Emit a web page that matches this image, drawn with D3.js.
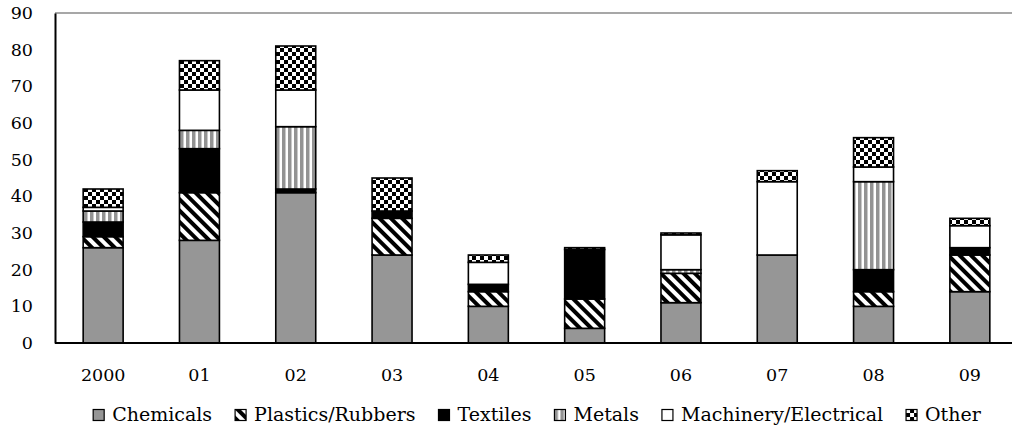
<!DOCTYPE html>
<html>
<head>
<meta charset="utf-8">
<script src="https://cdn.jsdelivr.net/npm/d3@7"></script>
<style>
  body { margin: 0; background: #fff; }
  svg { display: block; }
  svg text { font-family: "DejaVu Serif", "Liberation Serif", serif !important; fill: #000; }
</style>
</head>
<body>
<svg id="chart"></svg>
<script>
// years along the bottom
var years = ["2000", "01", "02", "03", "04", "05", "06", "07", "08", "09"];

// one list per category
var chemicals = [26, 28, 41, 24, 10, 4, 11, 24, 10, 14];
var plastics = [3, 13, 0, 10, 4, 8, 8, 0, 4, 10];
var textiles = [4, 12, 1, 2, 2, 13.5, 0, 0, 6, 2];
var metals = [3, 5, 17, 0, 0, 0, 1, 0, 24, 0];
var machinery = [1, 11, 10, 0, 6, 0, 9.5, 20, 4, 6];
var other = [5, 8, 12, 9, 2, 0.5, 0.5, 3, 8, 2];

var seriesNames = ["Chemicals", "Plastics/Rubbers", "Textiles", "Metals", "Machinery/Electrical", "Other"];
var seriesKeys = ["chem", "plast", "text", "metal", "mach", "other"];
var yTicks = [0, 10, 20, 30, 40, 50, 60, 70, 80, 90];

var screen = { width: 1012, height: 431 };
var margins = { left: 55, top: 13 };
var fontSize = "17.5px";
var legendFont = "19px";

var svg = d3.select("#chart")
    .attr("width", screen.width)
    .attr("height", screen.height);

// fill patterns for the black and white print look
var defs = svg.append("defs");

var diag = defs.append("pattern")
    .attr("id", "pat-plast")
    .attr("patternUnits", "userSpaceOnUse")
    .attr("width", 8).attr("height", 8)
    .attr("patternTransform", "rotate(-45)");
diag.append("rect").attr("width", 8).attr("height", 8).attr("fill", "#fff");
diag.append("rect").attr("width", 4).attr("height", 8).attr("fill", "#000");

var vert = defs.append("pattern")
    .attr("id", "pat-metal")
    .attr("patternUnits", "userSpaceOnUse")
    .attr("width", 6).attr("height", 6);
vert.append("rect").attr("width", 6).attr("height", 6).attr("fill", "#fff");
vert.append("rect").attr("width", 3.5).attr("height", 6).attr("fill", "#939393");

var check = defs.append("pattern")
    .attr("id", "pat-other")
    .attr("patternUnits", "userSpaceOnUse")
    .attr("width", 8).attr("height", 8);
check.append("rect").attr("width", 8).attr("height", 8).attr("fill", "#fff");
check.append("rect").attr("width", 4).attr("height", 4).attr("fill", "#000");
check.append("rect").attr("x", 4).attr("y", 4).attr("width", 4).attr("height", 4).attr("fill", "#000");

var fills = {
    chem: "#969696",
    plast: "url(#pat-plast)",
    text: "#000",
    metal: "url(#pat-metal)",
    mach: "#fff",
    other: "url(#pat-other)"
};

var table = years.map(function (year, i) {
    return {
        year: year,
        chem: chemicals[i],
        plast: plastics[i],
        text: textiles[i],
        metal: metals[i],
        mach: machinery[i],
        other: other[i]
    };
});

var xScale = d3.scaleBand()
    .domain(years)
    .range([margins.left, margins.left + 963])
    .paddingInner(0.585)
    .paddingOuter(0.2925);

var yScale = d3.scaleLinear()
    .domain([0, 90])
    .range([343, 13]);

// top border of the plot area
svg.append("line")
    .attr("x1", margins.left).attr("x2", screen.width)
    .attr("y1", yScale(90)).attr("y2", yScale(90))
    .attr("stroke", "#8a8a8a")
    .attr("stroke-width", 1.5);

var stacked = d3.stack().keys(seriesKeys)(table);

var layers = svg.append("g")
    .selectAll("g")
    .data(stacked)
    .enter()
    .append("g")
    .attr("fill", function (s) { return fills[s.key]; });

layers.selectAll("rect")
    .data(function (s) {
        return s.filter(function (d) { return d[1] - d[0] > 0; });
    })
    .enter()
    .append("rect")
    .attr("x", function (d) { return xScale(d.data.year); })
    .attr("width", xScale.bandwidth())
    .attr("y", function (d) { return yScale(d[1]); })
    .attr("height", function (d) { return yScale(d[0]) - yScale(d[1]); })
    .attr("stroke", "#000")
    .attr("stroke-width", 1.6);

// axes, no tick marks
var yAxis = d3.axisLeft(yScale)
    .tickValues(yTicks)
    .tickSize(0)
    .tickPadding(22);

svg.append("g")
    .attr("transform", "translate(" + margins.left + ",0)")
    .call(yAxis)
    .call(function (g) {
        g.attr("font-family", null);
        g.select(".domain").attr("stroke", "#000").attr("stroke-width", 2);
        g.selectAll("text")
            .style("font-size", fontSize)
            .attr("dy", "0.32em");
    });

var xAxis = d3.axisBottom(xScale)
    .tickSize(0)
    .tickPadding(26);

svg.append("g")
    .attr("transform", "translate(0," + yScale(0) + ")")
    .call(xAxis)
    .call(function (g) {
        g.attr("font-family", null);
        g.select(".domain")
            .attr("d", "M" + margins.left + ",0H" + screen.width)
            .attr("stroke", "#000").attr("stroke-width", 2);
        g.selectAll("text")
            .style("font-size", fontSize);
    });

// legend, centred under the plot
var legend = svg.append("g").attr("class", "legend");
var items = legend.selectAll("g")
    .data(seriesKeys)
    .enter()
    .append("g");

items.append("rect")
    .attr("width", 11).attr("height", 11)
    .attr("y", -11.5)
    .attr("fill", function (k) { return fills[k]; })
    .attr("stroke", "#000")
    .attr("stroke-width", 1.2);

items.append("text")
    .attr("x", 19)
    .style("font-size", legendFont)
    .text(function (k, i) { return seriesNames[i]; });

var gap = 23;
var cursor = 0;
items.each(function () {
    var w = d3.select(this).select("text").node().getComputedTextLength() + 19;
    d3.select(this).attr("transform", "translate(" + cursor + ",0)");
    cursor += w + gap;
});
var legendWidth = cursor - gap;
legend.attr("transform", "translate(" + (537 - legendWidth / 2) + ",421)");
</script>
</body>
</html>
